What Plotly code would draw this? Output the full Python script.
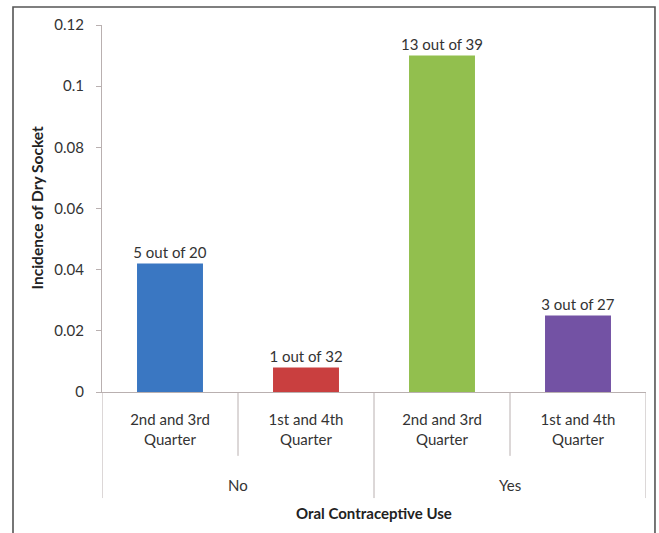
import plotly.graph_objects as go

groups = ["No", "Yes"]
quarters = ["2nd and 3rd<br>Quarter", "1st and 4th<br>Quarter", "2nd and 3rd<br>Quarter", "1st and 4th<br>Quarter"]
bar_ids = ["No-23", "No-14", "Yes-23", "Yes-14"]
values = [0.042, 0.008, 0.110, 0.025]
labels = ["5 out of 20", "1 out of 32", "13 out of 39", "3 out of 27"]
colors = ["#3A77C2", "#C93F3F", "#92BF4E", "#7352A4"]
y_ticks = [0, 0.02, 0.04, 0.06, 0.08, 0.1, 0.12]
y_ticktext = ["0", "0.02", "0.04", "0.06", "0.08", "0.1", "0.12"]

FONT = "Lato"
TXT = "#333333"
AX = "#b9b0b0"
FS = 15

fig = go.Figure()
fig.add_trace(go.Bar(
    x=bar_ids, y=values, marker=dict(color=colors, line=dict(width=0)),
    text=labels, textposition="outside", cliponaxis=False, constraintext="none",
    textfont=dict(family=FONT, size=FS, color=TXT), showlegend=False,
))

shapes = []
for xpos, depth in [(-0.5, 0.289), (0.5, 0.174), (1.5, 0.289), (2.5, 0.174), (3.5, 0.289)]:
    shapes.append(dict(type="line", xref="x", yref="paper", x0=xpos, x1=xpos,
                       y0=0, y1=-depth, line=dict(color=AX, width=1)))
shapes.append(dict(type="rect", xref="paper", yref="paper", x0=-0.1636, x1=1.0165,
                   y0=-0.6, y1=1.049, line=dict(color="#555555", width=1.6)))

annotations = []
for i, g in enumerate(groups):
    annotations.append(dict(text=g, xref="x", yref="paper", x=2 * i + 0.5, y=-0.253,
                            showarrow=False, font=dict(family=FONT, size=FS, color=TXT),
                            yanchor="middle"))
annotations.append(dict(text="<b>Oral Contraceptive Use</b>", xref="paper", yref="paper",
                        x=0.5, y=-0.33, showarrow=False, yanchor="middle",
                        font=dict(family=FONT, size=15, color="#222")))
annotations.append(dict(text="<b>Incidence of Dry Socket</b>", xref="paper", yref="paper",
                        x=-0.1213, y=0.5, textangle=-90, showarrow=False,
                        xanchor="center", yanchor="middle",
                        font=dict(family=FONT, size=15.5, color="#222")))

fig.update_layout(
    width=659, height=533,
    margin=dict(l=102, r=13, t=25, b=141),
    paper_bgcolor="white", plot_bgcolor="white",
    bargap=0.515,
    shapes=shapes, annotations=annotations,
    xaxis=dict(type="category", range=[-0.5, 3.5], tickvals=bar_ids, ticktext=quarters,
               showline=True, linecolor=AX, linewidth=1, ticks="", showgrid=False,
               ticklabelstandoff=14,
               tickfont=dict(family=FONT, size=FS, color=TXT)),
    yaxis=dict(range=[0, 0.12], tickvals=y_ticks, ticktext=y_ticktext,
               showline=True, linecolor=AX, linewidth=1, ticks="outside", ticklen=5,
               tickcolor=AX, showgrid=False, zeroline=False, ticklabelstandoff=9,
               tickfont=dict(family=FONT, size=FS, color=TXT)),
)

fig.write_html("out.html")
